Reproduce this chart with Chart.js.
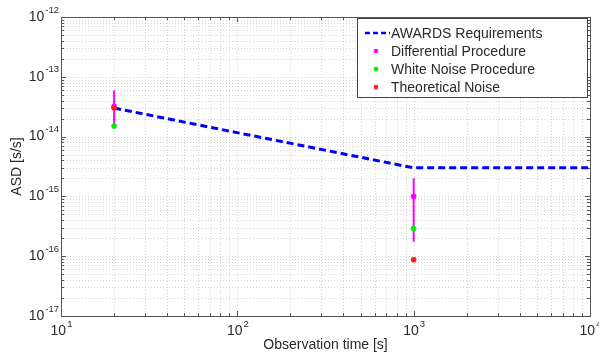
<!DOCTYPE html>
<html>
<head>
<meta charset="utf-8">
<script src="https://cdn.jsdelivr.net/npm/chart.js@4/dist/chart.umd.min.js"></script>
<style>
html, body { margin: 0; padding: 0; background: #fff; }
</style>
</head>
<body>
<canvas id="grafico" width="599" height="358"></canvas>
<script>
// data
var tiempos = [20, 1000];
var requisitoX = [20, 1000, 10000];
var requisitoY = [3e-14, 3e-15, 3e-15];
var diferencial = [3.2e-14, 1.0e-15];
var diferencialMin = [1.5e-14, 1.75e-16];
var diferencialMax = [5.9e-14, 2.0e-15];
var ruidoBlanco = [1.5e-14, 2.9e-16];
var ruidoTeorico = [3.0e-14, 8.7e-17];

// axes
var decadasX = [1, 2, 3, 4];
var decadasY = [-17, -16, -15, -14, -13, -12];
var multiplos = [1, 2, 3, 4, 5, 6, 7, 8, 9];

var etiquetas = ["AWARDS Requirements", "Differential Procedure", "White Noise Procedure", "Theoretical Noise"];
var FUENTE = '"Liberation Sans", Arial, sans-serif';
var TEXTO = "#2a2a2a";

var puntos = function (xs, ys) {
    return xs.map(function (x, i) { return { x: x, y: ys[i] }; });
}

var valoresLog = function (decadas) {
    var v = [];
    for (var d = 0; d < decadas.length; d++) {
        for (var m = 0; m < multiplos.length; m++) {
            if (d == decadas.length - 1 && m > 0) break;
            v.push({ valor: multiplos[m] * Math.pow(10, decadas[d]), mayor: m == 0 });
        }
    }
    return v;
}

var etiquetaPotencia = function (ctx, exp, x, y, alinear) {
    var base = "10", sup = String(exp);
    ctx.font = "14px " + FUENTE;
    var wb = ctx.measureText(base).width;
    ctx.font = "9.5px " + FUENTE;
    var ws = ctx.measureText(sup).width;
    var x0 = alinear == "derecha" ? x - wb - ws : x - (wb + ws) / 2;
    ctx.fillStyle = TEXTO;
    ctx.textBaseline = "middle";
    ctx.textAlign = "left";
    ctx.font = "14px " + FUENTE;
    ctx.fillText(base, x0, y);
    ctx.font = "9.5px " + FUENTE;
    ctx.fillText(sup, x0 + wb + 1, y - 7);
}

// marco estilo matlab: rejilla punteada, caja y marcas hacia adentro
var marcoMatlab = {
    id: "marcoMatlab",
    beforeDatasetsDraw: function (chart) {
        var ctx = chart.ctx, a = chart.chartArea;
        var sx = chart.scales.x, sy = chart.scales.y;
        var vx = valoresLog(decadasX), vy = valoresLog(decadasY);
        ctx.save();
        ctx.lineWidth = 1;
        ctx.strokeStyle = "rgba(150,150,150,0.4)";
        ctx.setLineDash([1, 2]);
        vx.forEach(function (t) {
            var px = Math.round(sx.getPixelForValue(t.valor)) + 0.5;
            ctx.beginPath(); ctx.moveTo(px, a.top); ctx.lineTo(px, a.bottom); ctx.stroke();
        });
        vy.forEach(function (t) {
            var py = Math.round(sy.getPixelForValue(t.valor)) + 0.5;
            ctx.beginPath(); ctx.moveTo(a.left, py); ctx.lineTo(a.right, py); ctx.stroke();
        });
        ctx.setLineDash([]);
        ctx.strokeStyle = "#555";
        vx.forEach(function (t) {
            var px = Math.round(sx.getPixelForValue(t.valor)) + 0.5;
            var l = t.mayor ? 5 : 3;
            ctx.beginPath();
            ctx.moveTo(px, a.bottom); ctx.lineTo(px, a.bottom - l);
            ctx.moveTo(px, a.top); ctx.lineTo(px, a.top + l);
            ctx.stroke();
        });
        vy.forEach(function (t) {
            var py = Math.round(sy.getPixelForValue(t.valor)) + 0.5;
            var l = t.mayor ? 5 : 3;
            ctx.beginPath();
            ctx.moveTo(a.left, py); ctx.lineTo(a.left + l, py);
            ctx.moveTo(a.right, py); ctx.lineTo(a.right - l, py);
            ctx.stroke();
        });
        ctx.strokeRect(Math.round(a.left) + 0.5, Math.round(a.top) + 0.5, Math.round(a.right - a.left), Math.round(a.bottom - a.top));
        ctx.restore();
    },
    afterDraw: function (chart) {
        var ctx = chart.ctx, a = chart.chartArea;
        var sx = chart.scales.x, sy = chart.scales.y;
        ctx.save();
        decadasX.forEach(function (e) {
            etiquetaPotencia(ctx, e, sx.getPixelForValue(Math.pow(10, e)), a.bottom + 15, "centro");
        });
        decadasY.forEach(function (e) {
            etiquetaPotencia(ctx, e, a.left - 3, sy.getPixelForValue(Math.pow(10, e)), "derecha");
        });
        ctx.fillStyle = TEXTO;
        ctx.font = "14px " + FUENTE;
        ctx.textAlign = "center";
        ctx.textBaseline = "middle";
        ctx.fillText("Observation time [s]", (a.left + a.right) / 2, 345);
        ctx.save();
        ctx.translate(17, (a.top + a.bottom) / 2);
        ctx.rotate(-Math.PI / 2);
        ctx.fillText("ASD [s/s]", 0, 0);
        ctx.restore();

        // leyenda
        var bx = a.right - 233, by = a.top + 1, bw = 230, bh = 79;
        ctx.fillStyle = "#fff";
        ctx.fillRect(bx, by, bw, bh);
        ctx.strokeStyle = "#444";
        ctx.lineWidth = 1;
        ctx.strokeRect(bx + 0.5, by + 0.5, bw, bh);
        var colores = ["#0000ff", "#ff00ff", "#00ee00", "#ff1a1a"];
        var filas = [15, 33, 51, 69];
        for (var i = 0; i < etiquetas.length; i++) {
            var fy = by + filas[i];
            if (i == 0) {
                ctx.strokeStyle = colores[0];
                ctx.lineWidth = 2.5;
                ctx.setLineDash([5, 3]);
                ctx.beginPath(); ctx.moveTo(bx + 8, fy); ctx.lineTo(bx + 33, fy); ctx.stroke();
                ctx.setLineDash([]);
            } else {
                ctx.fillStyle = colores[i];
                ctx.beginPath(); ctx.arc(bx + 19, fy, 2.3, 0, Math.PI * 2); ctx.fill();
            }
            ctx.fillStyle = TEXTO;
            ctx.font = "14px " + FUENTE;
            ctx.textAlign = "left";
            ctx.textBaseline = "middle";
            ctx.fillText(etiquetas[i], bx + 34, fy + 1);
        }
        ctx.restore();
    }
}

var barrasError = tiempos.map(function (t, i) {
    return {
        label: "",
        data: [{ x: t, y: diferencialMin[i] }, { x: t, y: diferencialMax[i] }],
        borderColor: "#ff00ff",
        borderWidth: 2,
        pointRadius: 0,
        order: 4
    };
});

new Chart(document.getElementById("grafico"), {
    type: "line",
    data: {
        datasets: [{
            label: etiquetas[3],
            data: puntos(tiempos, ruidoTeorico),
            showLine: false,
            pointRadius: 2.8,
            pointBorderWidth: 0,
            pointBackgroundColor: "#ff1a1a",
            borderColor: "#ff1a1a",
            order: 0
        }, {
            label: etiquetas[2],
            data: puntos(tiempos, ruidoBlanco),
            showLine: false,
            pointRadius: 2.8,
            pointBorderWidth: 0,
            pointBackgroundColor: "#00ee00",
            borderColor: "#00ee00",
            order: 1
        }, {
            label: etiquetas[1],
            data: puntos(tiempos, diferencial),
            showLine: false,
            pointRadius: 2.8,
            pointBorderWidth: 0,
            pointBackgroundColor: "#ff00ff",
            borderColor: "#ff00ff",
            order: 2
        }, {
            label: etiquetas[0],
            data: puntos(requisitoX, requisitoY),
            borderColor: "#0000ff",
            borderWidth: 3,
            borderDash: [7, 4],
            pointRadius: 0,
            fill: false,
            order: 3
        }].concat(barrasError)
    },
    options: {
        responsive: false,
        animation: false,
        devicePixelRatio: 1,
        layout: { padding: { left: 61, right: 9, top: 17, bottom: 42 } },
        plugins: { legend: { display: false }, tooltip: { enabled: false } },
        scales: {
            x: { type: "logarithmic", min: 10, max: 10000, display: false },
            y: { type: "logarithmic", min: 1e-17, max: 1e-12, display: false }
        }
    },
    plugins: [marcoMatlab]
});
</script>
</body>
</html>
